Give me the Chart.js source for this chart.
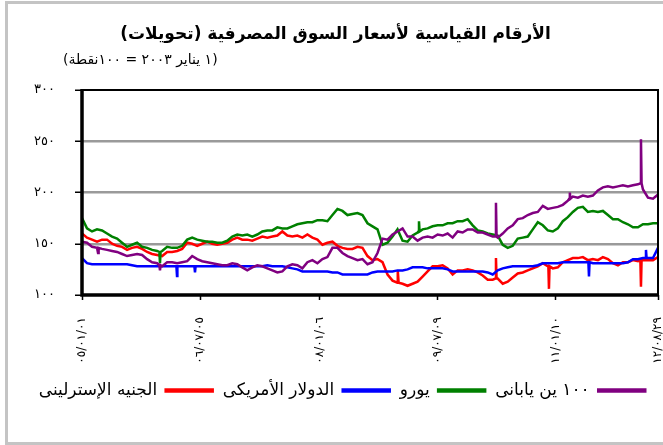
<!DOCTYPE html>
<html>
<head>
<meta charset="utf-8">
<script src="https://cdn.jsdelivr.net/npm/chart.js@4"></script>
<style>
  body { margin: 0; background: #fff; }
  #wrap { width: 663px; height: 445px; position: relative; }
</style>
</head>
<body>
<div id="wrap"><canvas id="grafico" width="663" height="445"></canvas></div>
<script>
// textos do grafico
var titulo = "الأرقام القياسية لأسعار السوق المصرفية (تحويلات)";
var subtitulo = "(١ يناير ٢٠٠٣ = ١٠٠نقطة)";
var nomesSeries = ["١٠٠ ين يابانى", "يورو", "الدولار الأمريكى", "الجنيه الإسترلينى"];
var coresSeries = ["#800080", "#008000", "#0000ff", "#ff0000"];

// eixo x: posicoes dos ticks (indice do ponto) e rotulos
var xTickPos = [0, 23.56, 47.5, 70.99, 94.6, 115];
var xTickLabels = ["٠٥/٠١/٠١", "٠٦/٠٧/٠٥", "٠٨/٠١/٠٦", "٠٩/٠٧/٠٩", "١١/٠١/١٠", "١٢/٠٨/٢٩"];
var yTickLabels = ["١٠٠", "١٥٠", "٢٠٠", "٢٥٠", "٣٠٠"];

// valores (116 pontos cada)
var yenValues = [152,151,147,146,145,144,143,142,140,138,139,140,139,135,132,131,128,132,132,131,
  132,133,138,135,133,132,131,130,129,129,131,130,127,124,127,129,128,126,124,122,
  123,128,130,129,126,132,134,131,135,137,146,146,141,138,136,134,135,130,132,141,
  155,154,159,162,165,157,157,153,156,157,156,159,158,160,156,162,161,164,164,161,
  161,159,157,156,160,165,168,174,175,178,180,181,187,184,185,186,188,192,196,195,
  197,196,197,202,205,206,205,206,207,206,207,208,203,195,194,198];
var euroValues = [175,165,162,164,163,160,157,155,151,147,149,151,147,146,144,143,143,147,146,146,
  148,154,156,154,153,152,152,151,151,153,157,159,158,159,157,159,162,163,163,166,
  165,165,167,169,170,171,171,173,173,172,178,184,182,178,179,180,178,170,167,164,
  149,151,157,164,153,152,158,161,164,165,167,168,168,170,170,172,172,174,168,163,
  162,160,159,158,149,146,148,155,156,157,164,171,168,163,162,165,172,176,181,185,
  186,181,182,181,182,178,174,174,171,169,166,166,169,169,170,170];
var dollarValues = [136,131,130,130,130,130,130,130,130,130,129,128,128,128,128,128,128,128,128,128,
  128,128,128,128,128,128,128,128,128,128,128,128,128,128,128,128,128,129,128,128,
  128,127,126,125,123,123,123,123,123,123,122,122,120,120,120,120,120,120,122,123,
  123,123,123,124,124,125,127,127,127,126,126,126,126,125,123,123,123,123,123,123,
  123,122,120,124,126,127,128,128,128,128,128,129,131,131,131,131,132,132,132,132,
  132,132,131,131,131,131,131,131,131,132,135,135,136,136,136,146];
var poundValues = [160,156,154,152,154,154,150,148,147,144,146,147,145,142,140,139,138,142,142,143,
  145,151,150,148,150,152,150,149,150,151,154,156,154,154,153,155,157,156,157,158,
  162,158,157,158,156,159,156,154,149,151,152,148,146,145,145,147,146,138,134,135,
  132,120,114,113,111,109,111,113,118,123,128,128,129,126,120,124,124,125,124,122,
  119,115,115,116,111,113,117,121,122,124,126,128,131,128,126,127,132,134,136,136,
  137,134,135,134,137,135,131,129,132,132,134,133,134,134,134,137];

// picos de um dia: serie, posicao, valor da base e valor do pico
var spikeSerie = [1, 1, 2, 2, 2, 2, 3, 3, 3, 3, 0, 0, 0, 0, 0];
var spikeAt    = [15.57, 67.28, 18.97, 22.56, 101.22, 112.6, 63.09, 82.65, 93.23, 111.6, 3.2, 15.57, 82.65, 97.4, 111.6];
var spikeBase  = [142, 162, 128, 128, 132, 136, 112, 116, 128, 134, 146, 129, 157, 194, 209];
var spikePeak  = [131, 172, 118.5, 122, 118, 144, 124, 136, 106, 108, 141, 124, 190, 200, 252];

var todasSeries = [yenValues, euroValues, dollarValues, poundValues];

// monta os pontos de cada serie juntando os picos
function montaPontos(valores, s) {
  var pts = valores.map(function(v, i) { return { x: i, y: v }; });
  for (var k = 0; k < spikeSerie.length; k++) {
    if (spikeSerie[k] !== s) continue;
    pts.push({ x: spikeAt[k] - 0.12, y: spikeBase[k] });
    pts.push({ x: spikeAt[k], y: spikePeak[k] });
    pts.push({ x: spikeAt[k] + 0.12, y: spikeBase[k] });
  }
  pts.sort(function(a, b) { return a.x - b.x; });
  return pts;
}

var datasets = todasSeries.map(function(vals, s) {
  return {
    label: nomesSeries[s],
    data: montaPontos(vals, s),
    borderColor: coresSeries[s],
    backgroundColor: coresSeries[s],
    borderWidth: 2.5,
    pointRadius: 0,
    tension: 0,
    fill: false
  };
});

var fonte = "'DejaVu Sans', sans-serif";

// fundo, moldura cinza, titulo e subtitulo
var desenhoExtra = {
  id: "desenhoExtra",
  beforeDraw: function(chart) {
    var ctx = chart.ctx;
    ctx.save();
    ctx.fillStyle = "#fff";
    ctx.fillRect(0, 0, chart.width, chart.height);
    ctx.strokeStyle = "#c4c4c4";
    ctx.lineWidth = 3;
    ctx.strokeRect(6.5, 2.5, 660, 441);
    ctx.fillStyle = "#000";
    ctx.direction = "rtl";
    ctx.textBaseline = "middle";
    ctx.textAlign = "center";
    ctx.font = "bold 17px " + fonte;
    ctx.fillText(titulo, 335.5, 35);
    ctx.textAlign = "left";
    ctx.font = "14px " + fonte;
    ctx.fillText(subtitulo, 63, 60);
    ctx.restore();
  },
  afterDatasetsDraw: function(chart) {
    var a = chart.chartArea;
    var ctx = chart.ctx;
    ctx.save();
    ctx.strokeStyle = "#000";
    ctx.lineWidth = 2;
    ctx.strokeRect(a.left, a.top, a.right - a.left, a.bottom - a.top);
    ctx.lineWidth = 3.5;
    ctx.beginPath();
    ctx.moveTo(a.left, a.top - 1);
    ctx.lineTo(a.left, a.bottom);
    ctx.lineTo(a.right + 1, a.bottom);
    ctx.stroke();
    ctx.restore();
  }
};

var grafico = new Chart(document.getElementById("grafico"), {
  type: "line",
  data: { datasets: datasets },
  plugins: [desenhoExtra],
  options: {
    responsive: false,
    animation: false,
    layout: { padding: { top: 90, left: 26, right: 5, bottom: 36 } },
    plugins: {
      legend: {
        position: "bottom",
        rtl: true,
        textDirection: "rtl",
        labels: {
          color: "#000",
          font: { family: fonte, size: 17 },
          boxWidth: 47,
          boxHeight: 2,
          padding: 10
        }
      },
      tooltip: { enabled: false }
    },
    scales: {
      x: {
        type: "linear",
        min: 0,
        max: 115,
        afterFit: function(s) {
          s.height = 77;
          // os rotulos girados nao devem encolher a area do grafico
          s.paddingLeft = 0;
          s.paddingRight = 0;
        },
        afterBuildTicks: function(s) {
          s.ticks = xTickPos.map(function(v) { return { value: v }; });
        },
        ticks: {
          autoSkip: false,
          minRotation: 90,
          maxRotation: 90,
          padding: 17,
          color: "#000",
          font: { family: fonte, size: 12 },
          callback: function(v, i) { return xTickLabels[i]; }
        },
        grid: { drawOnChartArea: false, tickLength: 5, tickColor: "#000", tickWidth: 1.5 },
        border: { display: false }
      },
      y: {
        min: 100,
        max: 300,
        afterFit: function(s) { s.width = 56; },
        ticks: {
          stepSize: 50,
          padding: 20,
          color: "#000",
          font: { family: fonte, size: 13 },
          callback: function(v, i) { return yTickLabels[i]; }
        },
        grid: {
          color: function(c) {
            if (c.tick && (c.tick.value === 100 || c.tick.value === 300)) return "rgba(0,0,0,0)";
            return "#9a9a9a";
          },
          lineWidth: 2.5,
          tickLength: 7,
          tickColor: "#000",
          tickWidth: 1.5
        },
        border: { display: false }
      }
    }
  }
});
</script>
</body>
</html>
